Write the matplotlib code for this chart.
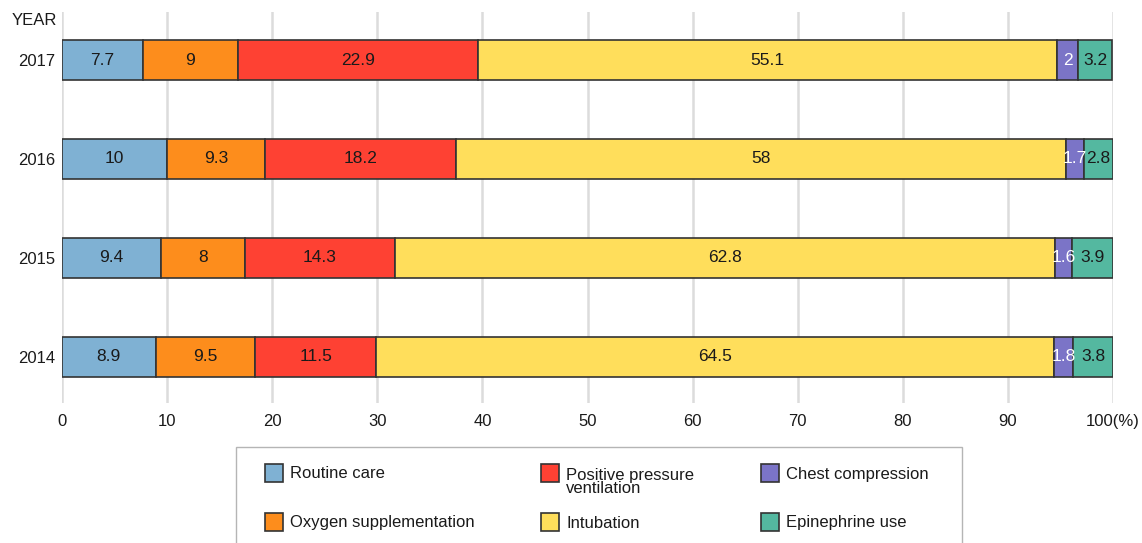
import matplotlib
matplotlib.use("Agg")
import matplotlib.pyplot as plt
from matplotlib.patches import Rectangle
import numpy as np

plt.rcParams['font.family'] = ['Liberation Sans', 'DejaVu Sans']

years = ["2014", "2015", "2016", "2017"]
routine_care = [8.9, 9.4, 10, 7.7]
oxygen_supp = [9.5, 8, 9.3, 9]
ppv = [11.5, 14.3, 18.2, 22.9]
intubation = [64.5, 62.8, 58, 55.1]
chest_comp = [1.8, 1.6, 1.7, 2]
epinephrine = [3.8, 3.9, 2.8, 3.2]

series_names = ["Routine care", "Oxygen supplementation", "Positive pressure\nventilation",
                "Intubation", "Chest compression", "Epinephrine use"]
series_values = [routine_care, oxygen_supp, ppv, intubation, chest_comp, epinephrine]
colors = ["#7fb1d3", "#fd8d1c", "#fe4133", "#ffde5b", "#7b74c7", "#54b8a0"]
label_colors = ["#1a1a1a", "#1a1a1a", "#1a1a1a", "#1a1a1a", "white", "#1a1a1a"]
xticks = [0, 10, 20, 30, 40, 50, 60, 70, 80, 90, 100]
xtick_labels = ["0", "10", "20", "30", "40", "50", "60", "70", "80", "90", "100(%)"]

W, H = 1142, 543
fig = plt.figure(figsize=(W / 100, H / 100), dpi=100)

# axes area in pixel coordinates
ax_l, ax_r, ax_t, ax_b = 62, 1113, 12, 403
ax = fig.add_axes([ax_l / W, 1 - ax_b / H, (ax_r - ax_l) / W, (ax_b - ax_t) / H])

y = np.arange(len(years))
left = np.zeros(len(years))
for name, vals, col, lcol in zip(series_names, series_values, colors, label_colors):
    vals = np.array(vals, dtype=float)
    bars = ax.barh(y, vals, left=left, height=0.405, color=col,
                   edgecolor="#333333", linewidth=1.2, zorder=3)
    ax.bar_label(bars, labels=[f"{v:g}" for v in vals], label_type="center",
                 color=lcol, fontsize=12.5, zorder=4)
    left += vals

ax.set_xlim(0, 100)
ax.set_ylim(-0.47, 3.486)
ax.set_xticks(xticks)
ax.set_xticklabels(xtick_labels)
ax.set_yticks(y)
ax.set_yticklabels(years)
ax.tick_params(axis="both", length=0, labelsize=12, colors="#1a1a1a")
ax.tick_params(axis="x", pad=8)
ax.tick_params(axis="y", pad=5)
ax.grid(axis="x", color="#dcdcdc", linewidth=1.8, zorder=0)
ax.set_axisbelow(True)
for s in ax.spines.values():
    s.set_visible(False)

fig.text(57 / W, 1 - 20.5 / H, "YEAR", ha="right", va="center", fontsize=12, color="#1a1a1a")

# legend panel
def fx(px):
    return px / W

def fy(py):
    return 1 - py / H

fig.patches.append(Rectangle((fx(236), fy(560)), fx(962) - fx(236), fy(447.5) - fy(560),
                             transform=fig.transFigure, facecolor="white",
                             edgecolor="#b5b5b5", linewidth=1.0, zorder=1))

col_x = [265, 541, 761]
row_y = [473, 522]
psize = 18
for i, (name, col) in enumerate(zip(series_names, colors)):
    cx = col_x[i // 2]
    cy = row_y[i % 2]
    fig.patches.append(Rectangle((fx(cx), fy(cy + psize / 2)), psize / W, psize / H,
                                 transform=fig.transFigure, facecolor=col,
                                 edgecolor="#333333", linewidth=1.2, zorder=2))
    if "\n" in name:
        fig.text(fx(cx + 25), fy(cy - 5), name, ha="left", va="top", fontsize=12,
                 linespacing=0.85, color="#1a1a1a")
    else:
        fig.text(fx(cx + 25), fy(cy + 1), name, ha="left", va="center", fontsize=12,
                 color="#1a1a1a")

fig.savefig("out.png", dpi=100)
